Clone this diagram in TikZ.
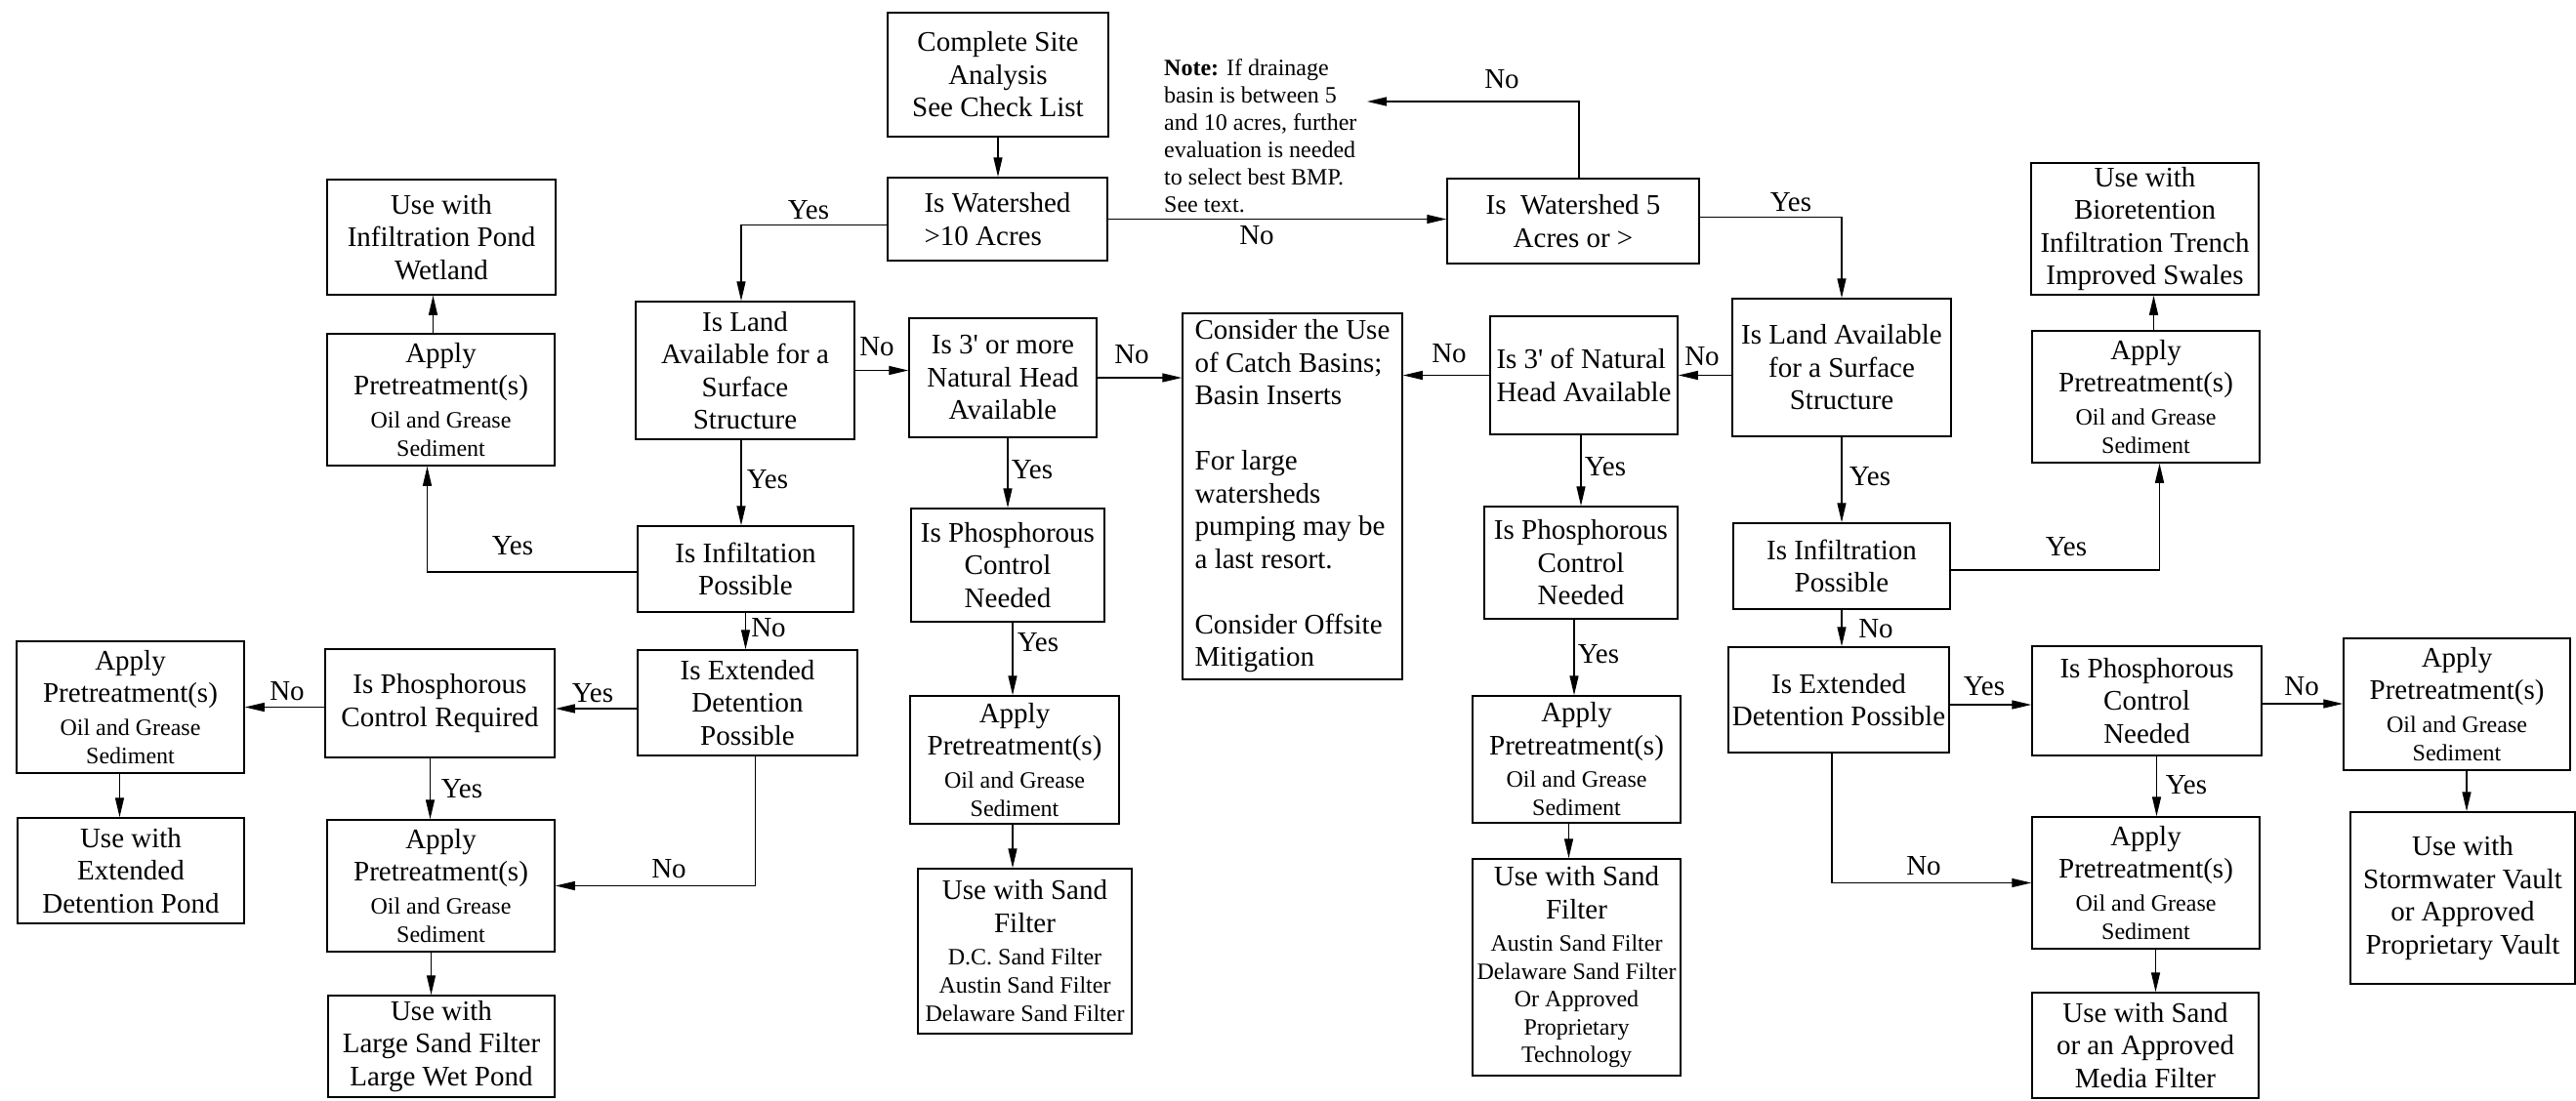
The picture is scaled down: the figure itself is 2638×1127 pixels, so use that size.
\documentclass[tikz,border=0pt]{standalone}
\usepackage{fontspec}
\setmainfont{Liberation Serif}
\usetikzlibrary{arrows.meta}
\newcommand{\bigf}{\fontsize{29}{33.5}\selectfont}
\newcommand{\smf}{\fontsize{24}{28}\selectfont}
\newcommand{\pretreat}{Apply\\Pretreatment(s)\\{\smf Oil and Grease}\\[-4.5pt]{\smf Sediment}}
\tikzset{
  box/.style={draw, line width=1.5pt, inner sep=0pt, align=center, font=\bigf},
  arr/.style={-{Triangle[length=20pt,width=9pt]}, line width=1.4pt},
  lbl/.style={inner sep=0pt, font=\bigf},
}
\begin{document}
\begin{tikzpicture}[x=1pt,y=-1pt]
\useasboundingbox (0,0) rectangle (2638,1127);
% boxes
\node[box, minimum width=226, minimum height=127] (cs) at (1022,76.5) {Complete Site\\Analysis\\See Check List};
\node[box, align=left, minimum width=225, minimum height=85] (w10) at (1021.5,224.5) {Is Watershed\\>10 Acres};
\node[box, minimum width=258, minimum height=87] (w5) at (1611,226.5) {Is\ \ Watershed 5\\Acres or >};
\node[inner sep=0pt, anchor=north west, align=left, font=\smf] (note) at (1192,60) {\textbf{Note:} If drainage\\basin is between 5\\and 10 acres, further\\evaluation is needed\\to select best BMP.\\See text.};
\coordinate (noteend) at (1400,104);
\node[box, minimum width=224, minimum height=141] (lland) at (763,379.5) {Is Land\\Available for a\\Surface\\Structure};
\node[box, minimum width=224, minimum height=141] (rland) at (1886,376.5) {Is Land Available\\for a Surface\\Structure};
\node[box, minimum width=192, minimum height=122] (l3) at (1027,387) {Is 3\textquotesingle{} or more\\Natural Head\\Available};
\node[box, align=left, minimum width=225, minimum height=375] (cons) at (1323.5,508.5) {Consider the Use\\of Catch Basins;\\Basin Inserts\\~\\For large\\watersheds\\pumping may be\\a last resort.\\~\\Consider Offsite\\Mitigation};
\node[box, align=left, minimum width=192, minimum height=121] (r3) at (1622,384.5) {Is 3\textquotesingle{} of Natural\\Head Available};
\node[box, minimum width=198, minimum height=116] (lphos) at (1032,579) {Is Phosphorous\\Control\\Needed};
\node[box, minimum width=198, minimum height=115] (rphos) at (1619,576.5) {Is Phosphorous\\Control\\Needed};
\node[box, minimum width=214, minimum height=131] (lapp2) at (1039,778.5) {\pretreat};
\node[box, minimum width=219, minimum height=169] (lsand) at (1049.5,974.5) {Use with Sand\\Filter\\{\smf D.C. Sand Filter}\\[-4.5pt]{\smf Austin Sand Filter}\\[-4.5pt]{\smf Delaware Sand Filter}};
\node[box, minimum width=213, minimum height=130] (rapp2) at (1614.5,778) {\pretreat};
\node[box, minimum width=213, minimum height=222] (rsand) at (1614.5,991) {Use with Sand\\Filter\\{\smf Austin Sand Filter}\\[-5pt]{\smf Delaware Sand Filter}\\[-5pt]{\smf Or Approved}\\[-5pt]{\smf Proprietary}\\[-5pt]{\smf Technology}};
\node[box, minimum width=233, minimum height=135] (lapp1) at (451.5,409.5) {\pretreat};
\node[box, minimum width=234, minimum height=118] (linfpond) at (452,243) {Use with\\Infiltration Pond\\Wetland};
\node[box, minimum width=221, minimum height=88] (linf) at (763.5,583) {Is Infiltation\\Possible};
\node[box, minimum width=225, minimum height=108] (lext) at (765.5,720) {Is Extended\\Detention\\Possible};
\node[box, minimum width=235, minimum height=111] (lphreq) at (450.5,720.5) {Is Phosphorous\\Control Required};
\node[box, minimum width=233, minimum height=135] (lapp3) at (133.5,724.5) {\pretreat};
\node[box, minimum width=232, minimum height=108] (lextpond) at (134,892) {Use with\\Extended\\Detention Pond};
\node[box, minimum width=233, minimum height=135] (lapp4) at (451.5,907.5) {\pretreat};
\node[box, minimum width=232, minimum height=104] (llarge) at (452,1072) {Use with\\Large Sand Filter\\Large Wet Pond};
\node[box, minimum width=233, minimum height=135] (rbio) at (2196.5,234.5) {Use with\\Bioretention\\Infiltration Trench\\Improved Swales};
\node[box, minimum width=233, minimum height=135] (rapp1) at (2197.5,406.5) {\pretreat};
\node[box, minimum width=222, minimum height=88] (rinf) at (1886,580) {Is Infiltration\\Possible};
\node[box, minimum width=226, minimum height=108] (rext) at (1883,717) {Is Extended\\Detention Possible};
\node[box, minimum width=235, minimum height=112] (rphos2) at (2198.5,718) {Is Phosphorous\\Control\\Needed};
\node[box, minimum width=232, minimum height=135] (rapp3) at (2516,721.5) {\pretreat};
\node[box, minimum width=230, minimum height=176] (rvault) at (2522,920) {Use with\\Stormwater Vault\\or Approved\\Proprietary Vault};
\node[box, minimum width=233, minimum height=135] (rapp4) at (2197.5,904.5) {\pretreat};
\node[box, minimum width=232, minimum height=108] (rmedia) at (2197,1071) {Use with Sand\\or an Approved\\Media Filter};
% connectors
\draw[arr] (cs.south) -- (cs.south |- w10.north);
\draw[arr] (w10.east) -- (w10.east -| w5.west);
\draw[arr] ([yshift=-6pt]w10.west) -| ([xshift=-4pt]lland.north);
\draw[arr] ([yshift=4pt]w5.east) -| (rland.north);
\draw[arr] ([xshift=6pt]w5.north) |- (noteend);
\draw[arr] (lland.east) -- (lland.east -| l3.west);
\draw[arr] (l3.east) -- (l3.east -| cons.west);
\draw[arr] (r3.west) -- (r3.west -| cons.east);
\draw[arr] (rland.west |- r3.east) -- (r3.east);
\draw[arr] ([xshift=-4pt]lland.south) -- ([xshift=-4pt]lland.south |- linf.north);
\draw[arr] (lphos.north |- l3.south) -- (lphos.north);
\draw[arr] (rphos.north |- r3.south) -- (rphos.north);
\draw[arr] (rland.south) -- (rland.south |- rinf.north);
\draw[arr] ([yshift=-4pt]rinf.east) -| ([xshift=14pt]rapp1.south);
\draw[arr] ([xshift=8pt]rapp1.north) -- ([xshift=8pt]rapp1.north |- rbio.south);
\draw[arr] ([yshift=-3pt]linf.west) -| ([xshift=-14pt]lapp1.south);
\draw[arr] ([xshift=-8pt]lapp1.north) -- ([xshift=-8pt]lapp1.north |- linfpond.south);
\draw[arr] (linf.south) -- (linf.south |- lext.north);
\draw[arr] ([yshift=-6pt]lext.west) -- ([yshift=-6pt]lext.west -| lphreq.east);
\draw[arr] ([yshift=-4pt]lphreq.west) -- ([yshift=-4pt]lphreq.west -| lapp3.east);
\draw[arr] ([xshift=-11pt]lapp3.south) -- ([xshift=-11pt]lapp3.south |- lextpond.north);
\draw[arr] ([xshift=-10pt]lphreq.south) -- ([xshift=-10pt]lphreq.south |- lapp4.north);
\draw[arr] ([xshift=8pt]lext.south) |- (lapp4.east);
\draw[arr] ([xshift=-10pt]lapp4.south) -- ([xshift=-10pt]lapp4.south |- llarge.north);
\draw[arr] ([xshift=5pt]lphos.south) -- ([xshift=5pt]lphos.south |- lapp2.north);
\draw[arr] ([xshift=-2pt]lapp2.south) -- ([xshift=-2pt]lapp2.south |- lsand.north);
\draw[arr] ([xshift=-7pt]rphos.south) -- ([xshift=-7pt]rphos.south |- rapp2.north);
\draw[arr] ([xshift=-8pt]rapp2.south) -- ([xshift=-8pt]rapp2.south |- rsand.north);
\draw[arr] (rinf.south) -- (rinf.south |- rext.north);
\draw[arr] ([yshift=-5pt]rext.east) -- ([yshift=-5pt]rext.east -| rphos2.west);
\draw[arr] ([yshift=-3pt]rphos2.east) -- ([yshift=-3pt]rphos2.east -| rapp3.west);
\draw[arr] ([xshift=10pt]rapp3.south) -- ([xshift=10pt]rapp3.south |- rvault.north);
\draw[arr] ([xshift=10pt]rphos2.south) -- ([xshift=10pt]rphos2.south |- rapp4.north);
\draw[arr] ([xshift=-7pt]rext.south) |- (rapp4.west);
\draw[arr] ([xshift=10pt]rapp4.south) -- ([xshift=10pt]rapp4.south |- rmedia.north);
% labels
\node[lbl] (t1) at (828,215) {Yes};
\node[lbl] (t2) at (1287,241) {No};
\node[lbl] (t3) at (1538,81) {No};
\node[lbl] (t4) at (1834,207) {Yes};
\node[lbl] (t5) at (898,355) {No};
\node[lbl] (t6) at (1159,363) {No};
\node[lbl] (t7) at (1484,362) {No};
\node[lbl] (t8) at (1743,365) {No};
\node[lbl] (t9) at (786,491) {Yes};
\node[lbl] (t10) at (1057,481) {Yes};
\node[lbl] (t11) at (1644,478) {Yes};
\node[lbl] (t12) at (1915,488) {Yes};
\node[lbl] (t13) at (525,559) {Yes};
\node[lbl] (t14) at (2116,560) {Yes};
\node[lbl] (t15) at (787,643) {No};
\node[lbl] (t16) at (1921,644) {No};
\node[lbl] (t17) at (294,708) {No};
\node[lbl] (t18) at (607,710) {Yes};
\node[lbl] (t19) at (2032,703) {Yes};
\node[lbl] (t20) at (2357,703) {No};
\node[lbl] (t21) at (473,808) {Yes};
\node[lbl] (t22) at (1063,658) {Yes};
\node[lbl] (t23) at (1637,670) {Yes};
\node[lbl] (t24) at (2239,804) {Yes};
\node[lbl] (t25) at (685,890) {No};
\node[lbl] (t26) at (1970,887) {No};
\end{tikzpicture}
\end{document}
